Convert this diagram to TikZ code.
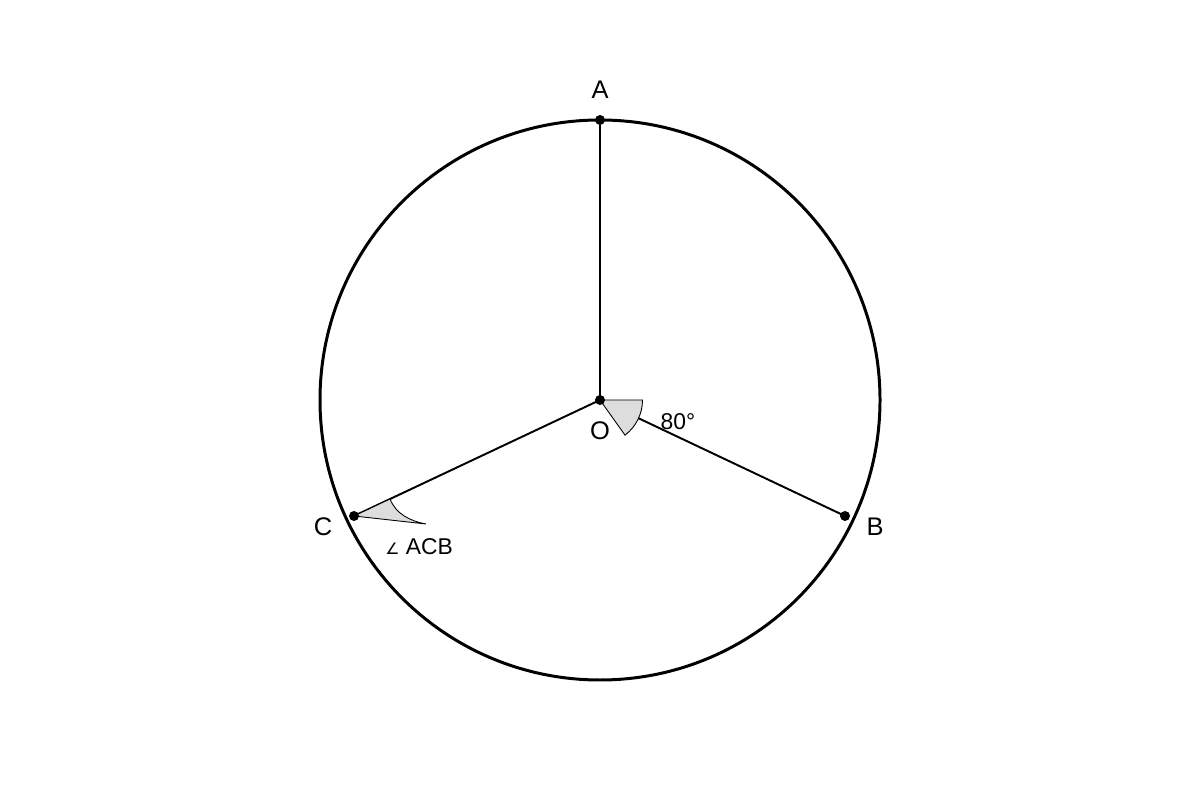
\documentclass[tikz,border=0pt]{standalone}
\usepackage{fontspec}
\setmainfont{Liberation Sans}
\newfontfamily\symfont{DejaVu Sans}
\usetikzlibrary{positioning,calc}
\definecolor{wedgegray}{HTML}{DDDDDD}
\begin{document}
\begin{tikzpicture}[dot/.style={circle, fill=black, inner sep=0pt, minimum size=0.2cm},
    radius line/.style={line width=1.1pt},
    mark wedge/.style={fill=wedgegray, draw=black, line width=0.5pt},
    big label/.style={font=\fontsize{14.5}{16}\selectfont},
    small label/.style={font=\fontsize{13}{15}\selectfont}]
    \useasboundingbox (0,0) rectangle (24,16);
    \coordinate (O) at (12,8);
    \coordinate (A) at (12,13.6);
    \coordinate (B) at (16.9,5.68);
    \coordinate (C) at (7.08,5.68);

    \draw [line width=1.7pt] (O) circle (5.6cm);

    \draw [radius line] (O) -- (A);
    \draw [radius line] (O) -- (B);
    \draw [radius line] (O) -- (C);

    % angle marks
    \filldraw [mark wedge] (O) -- ++(0:0.85) arc (0:-53:0.88) -- cycle;
    \filldraw [mark wedge] (C) -- (7.80,6.02) .. controls (7.92,5.72) and (8.2,5.58) .. (8.52,5.52) -- cycle;

    \node [dot] (a) at (A) {};
    \node [dot] (b) at (B) {};
    \node [dot] (c) at (C) {};
    \node [dot] (o) at (O) {};

    \node [big label] (la) at (12,14.2) {A};
    \node [big label] (lb) at (17.5,5.46) {B};
    \node [big label] (lc) at (6.46,5.46) {C};
    \node [big label] (lo) at (12,7.38) {O};
    \node [small label] (angO) at (13.56,7.56) {80°};
    \node [small label] (angC) at (8.38,5.06) {{\symfont\fontsize{9}{10}\selectfont ∠} ACB};
\end{tikzpicture}
\end{document}
